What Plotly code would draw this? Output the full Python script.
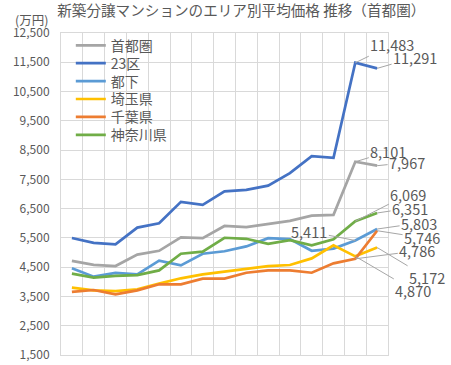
import plotly.graph_objects as go

periods = [str(y) for y in range(2010, 2025)]
series_names = ["首都圏", "23区", "都下", "埼玉県", "千葉県", "神奈川県"]
shutoken = [4716, 4578, 4540, 4929, 5060, 5518, 5490, 5908, 5871, 5980, 6083, 6260, 6288, 8101, 7967]
ku23 = [5497, 5328, 5283, 5853, 5999, 6732, 6629, 7089, 7142, 7286, 7712, 8293, 8236, 11483, 11291]
tokyo_shi = [4460, 4175, 4305, 4255, 4725, 4560, 4960, 5045, 5210, 5490, 5460, 5060, 5135, 5411, 5803]
saitama = [3800, 3710, 3685, 3745, 3940, 4120, 4255, 4345, 4450, 4535, 4575, 4800, 5245, 4870, 5172]
chiba = [3655, 3720, 3575, 3710, 3915, 3915, 4110, 4110, 4310, 4390, 4390, 4310, 4630, 4786, 5746]
kanagawa = [4280, 4145, 4200, 4230, 4390, 4960, 5030, 5505, 5470, 5300, 5425, 5245, 5450, 6069, 6351]
y_ticks = [1500, 2500, 3500, 4500, 5500, 6500, 7500, 8500, 9500, 10500, 11500, 12500]

series_values = [shutoken, ku23, tokyo_shi, saitama, chiba, kanagawa]
colors = ["#A5A5A5", "#4472C4", "#5B9BD5", "#FFC000", "#ED7D31", "#70AD47"]

# data labels: (series index, point index, pixel offset x, pixel offset y)
label_specs = [
    (1, 13, 37, -18), (1, 14, 38, -11),
    (0, 13, 33, -10), (0, 14, 30, -3),
    (5, 13, 53, -27), (5, 14, 33, -5),
    (2, 14, 42, -6), (4, 14, 45, 7),
    (4, 13, 62, -8), (3, 13, 58, 34),
    (3, 14, 50, 30), (2, 13, -46, -9),
]

FONT = "Noto Sans CJK JP"
TXT = "#595959"
GRID = "#D9D9D9"

W, H = 451, 365
ML, MR, MT, MB = 61, 63, 33, 10
plot_h = H - MT - MB
legend_top_px = 45.7
legend_step_px = 17.9
legend_x = 0.03

xpos = list(range(len(periods)))

fig = go.Figure()
legend_layouts = {}
for k, (name, vals, col) in enumerate(zip(series_names, series_values, colors)):
    lname = "legend" if k == 0 else f"legend{k + 1}"
    fig.add_trace(go.Scatter(
        x=xpos, y=vals, name=name, mode="lines", legend=lname,
        text=periods, hovertemplate="%{text}: %{y:,}<extra>" + name + "</extra>",
        line=dict(color=col, width=2.7),
    ))
    ypx = legend_top_px + k * legend_step_px
    legend_layouts[lname] = dict(
        x=legend_x, y=(H - MB - ypx) / plot_h, xanchor="left", yanchor="middle",
        bgcolor="rgba(0,0,0,0)", borderwidth=0,
        font=dict(family=FONT, size=14, color=TXT),
        itemwidth=30,
    )

for si, pi, ax, ay in label_specs:
    v = series_values[si][pi]
    fig.add_annotation(
        x=xpos[pi], y=v, text=f"{v:,}", showarrow=True,
        arrowhead=0, arrowwidth=1, arrowcolor="#A6A6A6",
        ax=ax, ay=ay, standoff=0,
        font=dict(family=FONT, size=14.5, color=TXT),
    )

fig.add_annotation(
    xref="paper", yref="paper", x=-0.148, y=1.0, yshift=14,
    text="(万円)", showarrow=False, xanchor="left", yanchor="middle",
    font=dict(family=FONT, size=12.5, color=TXT),
)

fig.update_layout(
    width=W, height=H,
    margin=dict(l=ML, r=MR, t=MT, b=MB, autoexpand=False),
    paper_bgcolor="white", plot_bgcolor="white",
    title=dict(text="新築分譲マンションのエリア別平均価格 推移（首都圏）",
               x=0.535, xanchor="center", y=0.97, yanchor="middle",
               font=dict(family=FONT, size=14.6, color=TXT), automargin=False),
    showlegend=True,
    font=dict(family=FONT, color=TXT),
    **legend_layouts,
)
fig.update_xaxes(
    range=[-0.5, len(periods) - 0.5], tick0=-0.5, dtick=1,
    showticklabels=False, showgrid=True, gridcolor=GRID, gridwidth=1,
    ticks="", zeroline=False, automargin=False,
    showline=True, linecolor=GRID, mirror=True,
)
fig.update_yaxes(
    range=[1500, 12500], tickvals=y_ticks, tickformat=",d",
    showgrid=True, gridcolor=GRID, gridwidth=1, zeroline=False,
    showline=True, linecolor=GRID, mirror=True, ticks="", automargin=False,
    ticklabelstandoff=8,
    tickfont=dict(family=FONT, size=12, color=TXT),
)

fig.write_html(
    "out.html",
    config={"displayModeBar": False},
    post_script="document.body.style.margin='0';document.body.style.padding='0';",
)
